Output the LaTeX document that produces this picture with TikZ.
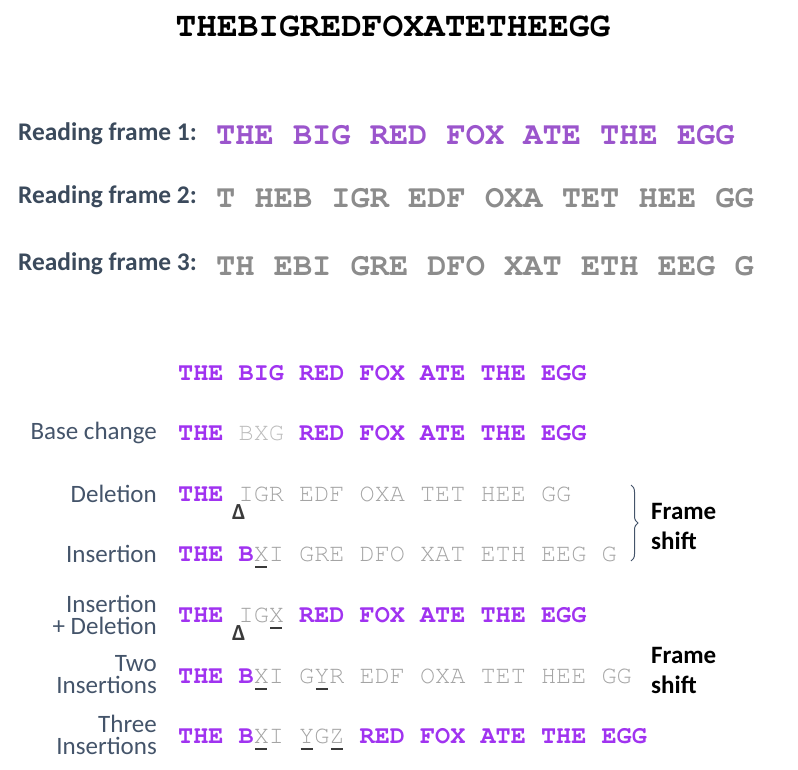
\documentclass[tikz,border=0pt]{standalone}
\usepackage{fontspec}
\setmonofont{texgyrecursor}[Extension=.otf, UprightFont=*-regular, BoldFont=*-bold]
\setsansfont{Carlito}
\usetikzlibrary{decorations.pathreplacing}

\definecolor{purpletop}{HTML}{9B55CC}
\definecolor{purplelow}{HTML}{A033F0}
\definecolor{graytop}{HTML}{8C8C8C}
\definecolor{graylow}{HTML}{A4A4A4}
\definecolor{graylight}{HTML}{BDBDBD}
\definecolor{labelblue}{HTML}{44546A}
\definecolor{labeldark}{HTML}{3B4A5C}
\definecolor{markgray}{HTML}{3A3A3A}

% coloured words
\newcommand\pt[1]{{\color{purpletop}#1}}
\newcommand\gt[1]{{\color{graytop}#1}}
\newcommand\pl[1]{{\color{purplelow}\bfseries#1}}
\newcommand\gl[1]{{\color{graylow}\mdseries#1}}
% marks under the letters
\newcommand\delmark{\makebox[0pt]{\raisebox{-18pt}{\color{markgray}\sffamily\bfseries\fontsize{23}{23}\selectfont Δ}}}
\newcommand\insmark[1]{\ooalign{#1\cr\hidewidth{\color{markgray}\rule[-7.2pt]{12pt}{2.4pt}}\hidewidth\cr}}

\tikzset{
  title/.style={anchor=base, inner sep=0pt, font=\ttfamily\bfseries\fontsize{34.5}{34.5}\selectfont},
  seqtop/.style={anchor=base west, inner sep=0pt, font=\ttfamily\bfseries\fontsize{32}{32}\selectfont},
  seqlow/.style={anchor=base west, inner sep=0pt, font=\ttfamily\bfseries\fontsize{25.2}{25.2}\selectfont},
  framelabel/.style={anchor=base east, inner sep=0pt, text=labeldark, font=\sffamily\bfseries\fontsize{25.4}{25.4}\selectfont},
  rowlabel/.style={anchor=east, inner sep=0pt, align=right, text=labelblue, font=\sffamily\fontsize{25}{22}\selectfont},
  shiftlabel/.style={anchor=west, inner sep=0pt, align=left, font=\sffamily\bfseries\fontsize{25}{30}\selectfont},
  brace/.style={decorate, decoration={brace, amplitude=7pt}, draw=labelblue, line width=1pt}
}

\begin{document}
\begin{tikzpicture}[x=1pt, y=-1pt]
    \useasboundingbox (0,0) rectangle (798,770);

    % The sentence without spaces
    \node[title] (sentence) at (393,37) {THEBIGREDFOXATETHEEGG};

    % Three reading frames
    \node[framelabel] (rf1) at (197,141) {Reading frame 1:};
    \node[seqtop] (seq1) at (216,145) {\pt{THE BIG RED FOX ATE THE EGG}};
    \node[framelabel] (rf2) at (197,204) {Reading frame 2:};
    \node[seqtop] (seq2) at (216,208) {\gt{T HEB IGR EDF OXA TET HEE GG}};
    \node[framelabel] (rf3) at (197,270) {Reading frame 3:};
    \node[seqtop] (seq3) at (216,276) {\gt{TH EBI GRE DFO XAT ETH EEG G}};

    % Original sequence
    \node[seqlow] (orig) at (178,380) {\pl{THE BIG RED FOX ATE THE EGG}};

    % Base change
    \node[rowlabel] (lbase) at (157,433) {Base change};
    \node[seqlow] (base) at (178,440) {\pl{THE} {\color{graylight}\mdseries BXG} \pl{RED FOX ATE THE EGG}};

    % Deletion
    \node[rowlabel] (ldel) at (157,494) {Deletion};
    \node[seqlow] (del) at (178,501) {\pl{THE} \delmark\gl{IGR EDF OXA TET HEE GG}};

    % Insertion
    \node[rowlabel] (lins) at (157,554) {Insertion};
    \node[seqlow] (ins) at (178,561) {\pl{THE B}\gl{\insmark{X}I GRE DFO XAT ETH EEG G}};

    % Frame shift brace for deletion and insertion
    \coordinate (btop) at (631,485);
    \coordinate (bbot) at (631,561);
    \draw[brace] (btop) -- (bbot);
    \node[shiftlabel] (shift1) at (651,526) {Frame\\shift};

    % Insertion + Deletion
    \node[rowlabel] (linsdel) at (157,615) {Insertion\\+ Deletion};
    \node[seqlow] (insdel) at (178,622) {\pl{THE} \delmark\gl{IG\insmark{X}} \pl{RED FOX ATE THE EGG}};

    % Two insertions
    \node[rowlabel] (ltwo) at (157,675) {Two\\Insertions};
    \node[seqlow] (two) at (178,683) {\pl{THE B}\gl{\insmark{X}I G\insmark{Y}R EDF OXA TET HEE GG}};
    \node[shiftlabel] (shift2) at (651,670) {Frame\\shift};

    % Three insertions
    \node[rowlabel] (lthree) at (157,735) {Three\\Insertions};
    \node[seqlow] (three) at (178,743) {\pl{THE B}\gl{\insmark{X}I \insmark{Y}G\insmark{Z}} \pl{RED FOX ATE THE EGG}};
\end{tikzpicture}
\end{document}
